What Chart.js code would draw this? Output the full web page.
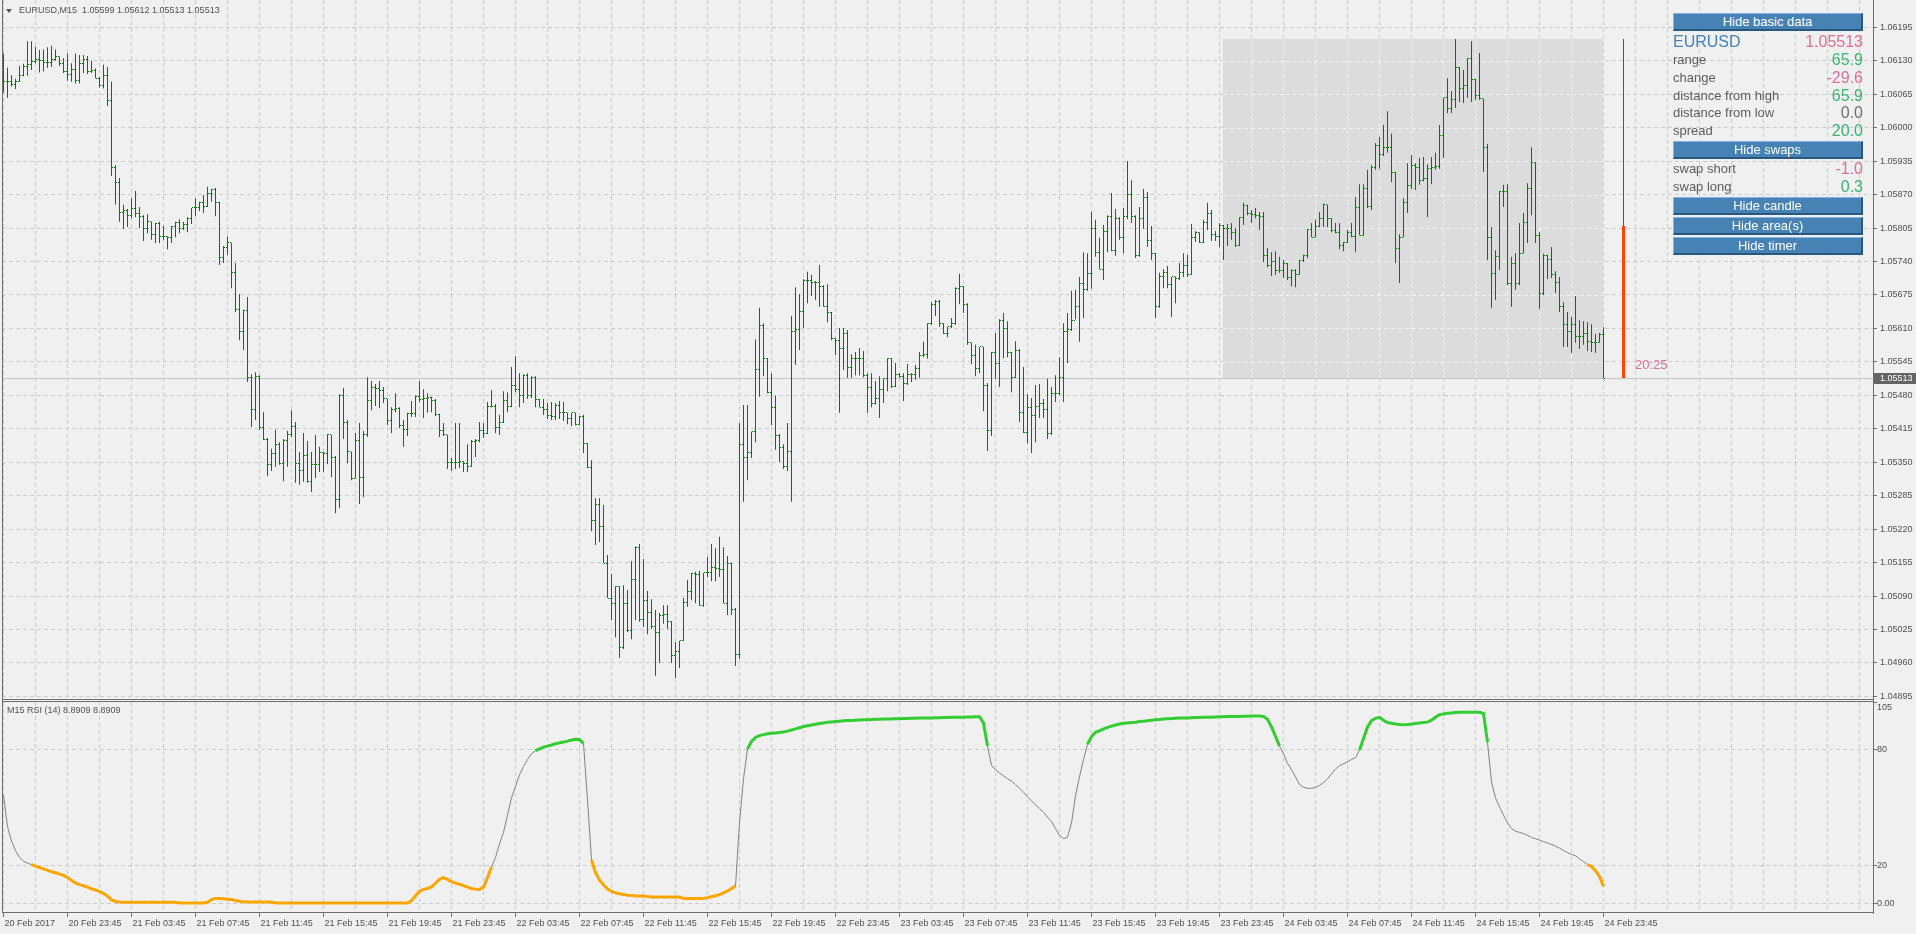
<!DOCTYPE html>
<html>
<head>
<meta charset="utf-8">
<title>EURUSD M15</title>
<script src="https://cdn.jsdelivr.net/npm/chart.js@4.4.1/dist/chart.umd.min.js"></script>
<style>
  html, body { margin: 0; padding: 0; background: #f0f0f0; }
  body { width: 1916px; height: 934px; position: relative; overflow: hidden;
         font-family: "Liberation Sans", Arial, sans-serif; }
  canvas { position: absolute; left: 0; }
  #price { top: 0; }
  #rsi { top: 700px; }
  .txt { position: absolute; white-space: pre; }
  .small { font-size: 9px; line-height: 12px; color: #505050; }
  .tri { position: absolute; left: 6px; top: 9px; width: 0; height: 0;
         border-left: 3px solid transparent; border-right: 3px solid transparent; border-top: 4px solid #555; }
  .btn { position: absolute; left: 1673px; width: 190px; height: 18px; box-sizing: border-box;
         background: #4682b4; color: #fff; font-size: 13px; line-height: 15px; text-align: center;
         border-top: 1px solid #82b4e2; border-left: 1px solid #82b4e2;
         border-bottom: 2px solid #2a5780; border-right: 2px solid #2a5780; }
  .row { position: absolute; left: 1673px; width: 190px; height: 18px; line-height: 18px;
         font-size: 13px; color: #5c5c5c; }
  .row .v { position: absolute; right: 0; top: 0; font-size: 16px; }
  .blue { color: #4682b4; }
  .pink { color: #db7093; }
  .green { color: #3cb371; }
  .grey { color: #707070; }
</style>
</head>
<body>
<canvas id="price" width="1916" height="700"></canvas>
<canvas id="rsi" width="1916" height="234"></canvas>

<!-- chart titles -->
<div class="tri"></div>
<div class="txt small" style="left:19px; top:4px;">EURUSD,M15  1.05599 1.05612 1.05513 1.05513</div>
<div class="txt small" style="left:7px; top:704px;">M15 RSI (14) 8.8909 8.8909</div>

<!-- info panel -->
<div class="btn" style="top:13px;">Hide basic data</div>
<div class="row" style="top:33px; font-size:16px;"><span class="blue">EURUSD</span><span class="v pink">1.05513</span></div>
<div class="row" style="top:51px;">range<span class="v green">65.9</span></div>
<div class="row" style="top:69px;">change<span class="v pink">-29.6</span></div>
<div class="row" style="top:87px;">distance from high<span class="v green">65.9</span></div>
<div class="row" style="top:104px;">distance from low<span class="v grey">0.0</span></div>
<div class="row" style="top:122px;">spread<span class="v green">20.0</span></div>
<div class="btn" style="top:141px;">Hide swaps</div>
<div class="row" style="top:160px;">swap short<span class="v pink">-1.0</span></div>
<div class="row" style="top:178px;">swap long<span class="v green">0.3</span></div>
<div class="btn" style="top:197px;">Hide candle</div>
<div class="btn" style="top:217px;">Hide area(s)</div>
<div class="btn" style="top:237px;">Hide timer</div>

<!-- bar timer -->
<div class="txt pink" style="left:1635px; top:357px; font-size:13px; line-height:16px;">20:25</div>

<script>
// bar data, EURUSD M15, 20 Feb 19:45 .. 24 Feb 23:45 (one bar every 15 min)
const highs = [
  1.06144, 1.06117, 1.06102, 1.06095, 1.06120, 1.06124, 1.06168, 1.06168, 1.06157, 1.06151,
  1.06152, 1.06156, 1.06159, 1.06152, 1.06138, 1.06135, 1.06144, 1.06125, 1.06144, 1.06141,
  1.06141, 1.06139, 1.06130, 1.06115, 1.06099, 1.06122, 1.06118, 1.06089, 1.05927, 1.05902,
  1.05850, 1.05842, 1.05863, 1.05877, 1.05846, 1.05830, 1.05832, 1.05817, 1.05815, 1.05817,
  1.05809, 1.05789, 1.05809, 1.05817, 1.05822, 1.05817, 1.05826, 1.05844, 1.05863, 1.05856,
  1.05869, 1.05885, 1.05881, 1.05883, 1.05856, 1.05770, 1.05789, 1.05776, 1.05737, 1.05677,
  1.05646, 1.05671, 1.05521, 1.05525, 1.05519, 1.05447, 1.05397, 1.05376, 1.05413, 1.05389,
  1.05395, 1.05411, 1.05451, 1.05428, 1.05370, 1.05407, 1.05391, 1.05370, 1.05403, 1.05380,
  1.05370, 1.05405, 1.05403, 1.05362, 1.05482, 1.05494, 1.05432, 1.05370, 1.05407, 1.05426,
  1.05411, 1.05515, 1.05508, 1.05502, 1.05508, 1.05496, 1.05473, 1.05457, 1.05484, 1.05457,
  1.05432, 1.05446, 1.05469, 1.05480, 1.05508, 1.05492, 1.05484, 1.05477, 1.05473, 1.05444,
  1.05426, 1.05403, 1.05358, 1.05426, 1.05426, 1.05352, 1.05385, 1.05393, 1.05395, 1.05428,
  1.05426, 1.05467, 1.05490, 1.05463, 1.05442, 1.05488, 1.05486, 1.05535, 1.05556, 1.05523,
  1.05521, 1.05523, 1.05517, 1.05517, 1.05473, 1.05473, 1.05465, 1.05467, 1.05465, 1.05469,
  1.05467, 1.05446, 1.05446, 1.05446, 1.05440, 1.05442, 1.05387, 1.05354, 1.05280, 1.05280,
  1.05267, 1.05170, 1.05133, 1.05109, 1.05109, 1.05111, 1.05102, 1.05158, 1.05187, 1.05191,
  1.05162, 1.05100, 1.05084, 1.05063, 1.05057, 1.05072, 1.05072, 1.05041, 1.05001, 1.05003,
  1.05086, 1.05121, 1.05135, 1.05137, 1.05139, 1.05135, 1.05166, 1.05191, 1.05183, 1.05205,
  1.05185, 1.05168, 1.05154, 1.05067, 1.05426, 1.05461, 1.05461, 1.05409, 1.05589, 1.05650,
  1.05620, 1.05552, 1.05523, 1.05479, 1.05405, 1.05385, 1.05426, 1.05634, 1.05690, 1.05677,
  1.05706, 1.05720, 1.05714, 1.05702, 1.05733, 1.05694, 1.05696, 1.05642, 1.05591, 1.05611,
  1.05611, 1.05607, 1.05560, 1.05564, 1.05572, 1.05566, 1.05523, 1.05523, 1.05508, 1.05517,
  1.05512, 1.05552, 1.05552, 1.05543, 1.05523, 1.05523, 1.05541, 1.05523, 1.05539, 1.05564,
  1.05584, 1.05620, 1.05661, 1.05665, 1.05665, 1.05620, 1.05613, 1.05630, 1.05690, 1.05716,
  1.05692, 1.05659, 1.05582, 1.05578, 1.05574, 1.05574, 1.05504, 1.05564, 1.05601, 1.05628,
  1.05640, 1.05624, 1.05564, 1.05585, 1.05570, 1.05535, 1.05482, 1.05475, 1.05500, 1.05502,
  1.05473, 1.05512, 1.05496, 1.05519, 1.05554, 1.05620, 1.05640, 1.05683, 1.05685, 1.05710,
  1.05758, 1.05756, 1.05836, 1.05821, 1.05786, 1.05811, 1.05830, 1.05873, 1.05842, 1.05826,
  1.05844, 1.05935, 1.05898, 1.05830, 1.05846, 1.05881, 1.05875, 1.05809, 1.05756, 1.05718,
  1.05725, 1.05731, 1.05710, 1.05710, 1.05737, 1.05756, 1.05753, 1.05813, 1.05799, 1.05797,
  1.05821, 1.05854, 1.05840, 1.05799, 1.05815, 1.05811, 1.05813, 1.05815, 1.05805, 1.05826,
  1.05854, 1.05850, 1.05840, 1.05844, 1.05836, 1.05836, 1.05766, 1.05758, 1.05760, 1.05749,
  1.05743, 1.05737, 1.05725, 1.05725, 1.05743, 1.05753, 1.05803, 1.05815, 1.05821, 1.05836,
  1.05852, 1.05850, 1.05824, 1.05815, 1.05815, 1.05778, 1.05801, 1.05815, 1.05865, 1.05890,
  1.05890, 1.05918, 1.05927, 1.05970, 1.05982, 1.06005, 1.06032, 1.05988, 1.05914, 1.05793,
  1.05863, 1.05931, 1.05947, 1.05931, 1.05941, 1.05943, 1.05929, 1.05943, 1.05951, 1.06005,
  1.06058, 1.06096, 1.06071, 1.06172, 1.06118, 1.06112, 1.06135, 1.06168, 1.06095, 1.06145,
  1.06056, 1.05968, 1.05807, 1.05762, 1.05877, 1.05889, 1.05890, 1.05749, 1.05756, 1.05815,
  1.05834, 1.05892, 1.05962, 1.05933, 1.05797, 1.05755, 1.05753, 1.05768, 1.05721, 1.05710,
  1.05661, 1.05642, 1.05632, 1.05673, 1.05626, 1.05624, 1.05622, 1.05618, 1.05599, 1.05601,
  1.05612
];
const lows = [
  1.06068, 1.06058, 1.06080, 1.06075, 1.06089, 1.06100, 1.06101, 1.06112, 1.06125, 1.06107,
  1.06109, 1.06116, 1.06118, 1.06130, 1.06120, 1.06106, 1.06091, 1.06089, 1.06086, 1.06086,
  1.06106, 1.06104, 1.06106, 1.06096, 1.06078, 1.06076, 1.06042, 1.05906, 1.05850, 1.05817,
  1.05803, 1.05807, 1.05824, 1.05826, 1.05805, 1.05780, 1.05795, 1.05782, 1.05776, 1.05776,
  1.05782, 1.05764, 1.05776, 1.05787, 1.05795, 1.05801, 1.05797, 1.05813, 1.05828, 1.05838,
  1.05834, 1.05846, 1.05856, 1.05828, 1.05733, 1.05737, 1.05753, 1.05688, 1.05642, 1.05587,
  1.05568, 1.05506, 1.05418, 1.05432, 1.05413, 1.05393, 1.05323, 1.05333, 1.05341, 1.05345,
  1.05313, 1.05341, 1.05399, 1.05310, 1.05306, 1.05312, 1.05310, 1.05292, 1.05319, 1.05331,
  1.05331, 1.05346, 1.05321, 1.05251, 1.05261, 1.05395, 1.05348, 1.05315, 1.05319, 1.05269,
  1.05282, 1.05399, 1.05451, 1.05459, 1.05455, 1.05465, 1.05422, 1.05407, 1.05447, 1.05416,
  1.05380, 1.05401, 1.05438, 1.05438, 1.05467, 1.05436, 1.05446, 1.05447, 1.05440, 1.05399,
  1.05401, 1.05337, 1.05333, 1.05337, 1.05339, 1.05331, 1.05331, 1.05341, 1.05360, 1.05389,
  1.05397, 1.05405, 1.05457, 1.05407, 1.05403, 1.05426, 1.05447, 1.05457, 1.05486, 1.05457,
  1.05465, 1.05473, 1.05475, 1.05457, 1.05457, 1.05442, 1.05434, 1.05432, 1.05432, 1.05434,
  1.05430, 1.05424, 1.05420, 1.05422, 1.05422, 1.05368, 1.05339, 1.05216, 1.05189, 1.05195,
  1.05154, 1.05086, 1.05043, 1.05010, 1.04970, 1.04987, 1.05020, 1.05006, 1.05043, 1.05040,
  1.05030, 1.05016, 1.05026, 1.04935, 1.04960, 1.05036, 1.05026, 1.04960, 1.04931, 1.04950,
  1.05003, 1.05069, 1.05082, 1.05076, 1.05071, 1.05069, 1.05127, 1.05119, 1.05119, 1.05127,
  1.05076, 1.05053, 1.05053, 1.04954, 1.04968, 1.05273, 1.05315, 1.05358, 1.05389, 1.05477,
  1.05517, 1.05484, 1.05422, 1.05374, 1.05350, 1.05337, 1.05333, 1.05273, 1.05539, 1.05568,
  1.05611, 1.05659, 1.05673, 1.05665, 1.05652, 1.05652, 1.05622, 1.05587, 1.05558, 1.05446,
  1.05529, 1.05514, 1.05514, 1.05519, 1.05519, 1.05515, 1.05446, 1.05457, 1.05462, 1.05436,
  1.05465, 1.05488, 1.05494, 1.05496, 1.05514, 1.05469, 1.05500, 1.05506, 1.05510, 1.05514,
  1.05554, 1.05551, 1.05617, 1.05634, 1.05613, 1.05599, 1.05593, 1.05611, 1.05617, 1.05657,
  1.05640, 1.05578, 1.05541, 1.05517, 1.05523, 1.05449, 1.05372, 1.05401, 1.05512, 1.05496,
  1.05552, 1.05554, 1.05486, 1.05514, 1.05428, 1.05407, 1.05387, 1.05368, 1.05389, 1.05436,
  1.05436, 1.05395, 1.05403, 1.05467, 1.05480, 1.05467, 1.05543, 1.05605, 1.05628, 1.05584,
  1.05630, 1.05683, 1.05687, 1.05749, 1.05725, 1.05704, 1.05758, 1.05760, 1.05751, 1.05782,
  1.05756, 1.05822, 1.05815, 1.05747, 1.05749, 1.05803, 1.05768, 1.05743, 1.05630, 1.05650,
  1.05688, 1.05688, 1.05632, 1.05659, 1.05704, 1.05710, 1.05710, 1.05714, 1.05778, 1.05776,
  1.05776, 1.05801, 1.05780, 1.05780, 1.05768, 1.05743, 1.05770, 1.05782, 1.05768, 1.05770,
  1.05811, 1.05830, 1.05815, 1.05824, 1.05801, 1.05739, 1.05729, 1.05712, 1.05714, 1.05718,
  1.05708, 1.05704, 1.05692, 1.05690, 1.05714, 1.05739, 1.05747, 1.05787, 1.05787, 1.05807,
  1.05807, 1.05807, 1.05797, 1.05795, 1.05764, 1.05760, 1.05776, 1.05787, 1.05758, 1.05791,
  1.05790, 1.05844, 1.05840, 1.05918, 1.05920, 1.05945, 1.05951, 1.05894, 1.05737, 1.05698,
  1.05787, 1.05834, 1.05881, 1.05879, 1.05889, 1.05896, 1.05826, 1.05890, 1.05918, 1.05920,
  1.05941, 1.06028, 1.06028, 1.06038, 1.06050, 1.06048, 1.06058, 1.06050, 1.06054, 1.06054,
  1.05914, 1.05743, 1.05650, 1.05665, 1.05723, 1.05846, 1.05694, 1.05652, 1.05685, 1.05694,
  1.05756, 1.05776, 1.05830, 1.05776, 1.05648, 1.05675, 1.05706, 1.05708, 1.05679, 1.05642,
  1.05574, 1.05574, 1.05562, 1.05582, 1.05570, 1.05578, 1.05566, 1.05564, 1.05562, 1.05582,
  1.05513
];
const closes = [
  1.06089, 1.06089, 1.06084, 1.06089, 1.06102, 1.06119, 1.06123, 1.06129, 1.06133, 1.06131,
  1.06126, 1.06126, 1.06133, 1.06138, 1.06125, 1.06109, 1.06104, 1.06113, 1.06091, 1.06125,
  1.06133, 1.06110, 1.06111, 1.06096, 1.06081, 1.06102, 1.06052, 1.05922, 1.05893, 1.05836,
  1.05840, 1.05830, 1.05842, 1.05834, 1.05828, 1.05805, 1.05817, 1.05793, 1.05813, 1.05789,
  1.05789, 1.05786, 1.05807, 1.05815, 1.05805, 1.05811, 1.05824, 1.05844, 1.05844, 1.05854,
  1.05846, 1.05873, 1.05879, 1.05854, 1.05747, 1.05768, 1.05776, 1.05718, 1.05646, 1.05603,
  1.05644, 1.05515, 1.05453, 1.05517, 1.05418, 1.05395, 1.05346, 1.05366, 1.05385, 1.05348,
  1.05393, 1.05403, 1.05420, 1.05348, 1.05333, 1.05364, 1.05312, 1.05346, 1.05346, 1.05368,
  1.05366, 1.05403, 1.05360, 1.05277, 1.05480, 1.05428, 1.05370, 1.05319, 1.05393, 1.05321,
  1.05403, 1.05469, 1.05496, 1.05494, 1.05490, 1.05473, 1.05432, 1.05453, 1.05455, 1.05422,
  1.05413, 1.05444, 1.05444, 1.05477, 1.05471, 1.05473, 1.05475, 1.05469, 1.05442, 1.05411,
  1.05403, 1.05350, 1.05350, 1.05350, 1.05352, 1.05348, 1.05341, 1.05391, 1.05393, 1.05411,
  1.05405, 1.05459, 1.05459, 1.05418, 1.05428, 1.05469, 1.05459, 1.05500, 1.05492, 1.05480,
  1.05519, 1.05480, 1.05515, 1.05471, 1.05457, 1.05453, 1.05440, 1.05438, 1.05461, 1.05447,
  1.05446, 1.05434, 1.05446, 1.05424, 1.05438, 1.05387, 1.05339, 1.05236, 1.05267, 1.05226,
  1.05154, 1.05086, 1.05076, 1.05108, 1.04991, 1.05076, 1.05024, 1.05123, 1.05185, 1.05045,
  1.05082, 1.05059, 1.05030, 1.05020, 1.05053, 1.05055, 1.05040, 1.04975, 1.04983, 1.05003,
  1.05078, 1.05098, 1.05133, 1.05131, 1.05072, 1.05135, 1.05135, 1.05146, 1.05144, 1.05142,
  1.05076, 1.05154, 1.05063, 1.04977, 1.05385, 1.05360, 1.05368, 1.05409, 1.05531, 1.05615,
  1.05552, 1.05486, 1.05457, 1.05401, 1.05378, 1.05341, 1.05370, 1.05603, 1.05607, 1.05642,
  1.05704, 1.05704, 1.05700, 1.05700, 1.05692, 1.05652, 1.05640, 1.05591, 1.05587, 1.05570,
  1.05601, 1.05535, 1.05552, 1.05552, 1.05552, 1.05519, 1.05496, 1.05465, 1.05473, 1.05492,
  1.05512, 1.05552, 1.05498, 1.05521, 1.05517, 1.05502, 1.05521, 1.05521, 1.05533, 1.05558,
  1.05560, 1.05620, 1.05657, 1.05663, 1.05620, 1.05601, 1.05613, 1.05620, 1.05687, 1.05692,
  1.05657, 1.05582, 1.05558, 1.05533, 1.05574, 1.05500, 1.05411, 1.05564, 1.05541, 1.05626,
  1.05609, 1.05564, 1.05515, 1.05568, 1.05446, 1.05407, 1.05457, 1.05440, 1.05459, 1.05465,
  1.05453, 1.05405, 1.05484, 1.05484, 1.05515, 1.05603, 1.05607, 1.05626, 1.05652, 1.05698,
  1.05685, 1.05716, 1.05805, 1.05758, 1.05725, 1.05799, 1.05828, 1.05762, 1.05824, 1.05786,
  1.05828, 1.05871, 1.05828, 1.05751, 1.05824, 1.05865, 1.05780, 1.05756, 1.05652, 1.05710,
  1.05718, 1.05696, 1.05710, 1.05706, 1.05718, 1.05733, 1.05714, 1.05787, 1.05797, 1.05776,
  1.05815, 1.05834, 1.05793, 1.05789, 1.05809, 1.05805, 1.05805, 1.05797, 1.05772, 1.05826,
  1.05848, 1.05834, 1.05832, 1.05830, 1.05828, 1.05751, 1.05733, 1.05739, 1.05723, 1.05723,
  1.05737, 1.05708, 1.05723, 1.05714, 1.05741, 1.05751, 1.05803, 1.05787, 1.05807, 1.05824,
  1.05850, 1.05824, 1.05801, 1.05797, 1.05772, 1.05776, 1.05797, 1.05789, 1.05844, 1.05791,
  1.05881, 1.05846, 1.05923, 1.05966, 1.05947, 1.05962, 1.05962, 1.05912, 1.05766, 1.05787,
  1.05854, 1.05887, 1.05927, 1.05923, 1.05898, 1.05902, 1.05920, 1.05922, 1.05925, 1.05984,
  1.06058, 1.06038, 1.06054, 1.06116, 1.06077, 1.06081, 1.06135, 1.06093, 1.06063, 1.06056,
  1.05962, 1.05787, 1.05716, 1.05749, 1.05875, 1.05875, 1.05698, 1.05737, 1.05698, 1.05756,
  1.05815, 1.05881, 1.05933, 1.05791, 1.05677, 1.05751, 1.05743, 1.05714, 1.05700, 1.05652,
  1.05618, 1.05603, 1.05618, 1.05595, 1.05595, 1.05601, 1.05585, 1.05582, 1.05582, 1.05599,
  1.05513
];
const firstOpen = 1.06110;   // open of the first bar, others open at the previous close

// RSI(14) on the same bars
const rsi = [
  56.6, 40, 32.5, 27.5, 24, 22, 21, 20.2, 19.4, 18.7,
  18, 17.2, 16.5, 16, 15.3, 14.6, 13.5, 12, 10.6, 9.8,
  9.2, 8.5, 7.6, 7, 6.3, 5.2, 3.8, 1.8, 1, 0.7,
  0.6, 0.6, 0.6, 0.6, 0.6, 0.6, 0.6, 0.6, 0.6, 0.6,
  0.6, 0.6, 0.6, 0.6, 0.2, 0.2, 0.2, 0.2, 0.2, 0.2,
  0.2, 0.6, 2, 2.6, 2.6, 2.4, 2.2, 2, 1.5, 1.1,
  0.9, 0.7, 0.7, 0.7, 0.7, 0.7, 0.7, 0.7, 0.15, 0.15,
  0.15, 0.15, 0.15, 0.15, 0.15, 0.15, 0.15, 0.15, 0.15, 0.15,
  0.15, 0.15, 0.15, 0.15, 0.15, 0.15, 0.15, 0.15, 0.15, 0.15,
  0.15, 0.15, 0.15, 0.15, 0.15, 0.15, 0.15, 0.15, 0.15, 0.15,
  0.15, 0.15, 1.5, 4, 6.3, 7.3, 7.8, 8.6, 10.5, 12.6,
  13.4, 12.5, 11.4, 10.6, 10, 9.3, 8.5, 7.8, 7.4, 7.3,
  8.5, 13.5, 19, 24, 31, 37, 46, 55, 61, 67,
  71.4, 75, 78, 79.6, 80.6, 81.5, 82, 82.6, 83.2, 83.7,
  84.1, 84.6, 85.2, 85.6, 85.3, 83.4, 54, 22.6, 16, 12.1,
  9.7, 7.5, 6.3, 5.5, 5, 4.7, 4.3, 4.1, 3.9, 3.8,
  3.8, 3.6, 3.4, 3.4, 3.4, 3.4, 3.4, 3.4, 3.4, 3.4,
  2.6, 2.6, 2.6, 2.6, 2.6, 2.6, 3, 3.5, 4, 4.6,
  5.5, 6.5, 7.8, 9, 42, 65, 80.5, 84.5, 86.5, 87.5,
  88, 88.4, 88.7, 88.9, 89.1, 89.4, 89.8, 90.4, 91, 91.6,
  92.2, 92.6, 93, 93.4, 93.8, 94.1, 94.4, 94.6, 94.8, 95,
  95.2, 95.3, 95.4, 95.5, 95.6, 95.7, 95.8, 95.9, 96, 96,
  96.1, 96.2, 96.2, 96.3, 96.3, 96.4, 96.4, 96.5, 96.5, 96.6,
  96.6, 96.7, 96.7, 96.8, 96.8, 96.9, 96.9, 97, 97, 97.1,
  97.1, 97.2, 97.2, 97.3, 97.3, 94, 82, 72, 69.7, 68,
  66.5, 65, 63.8, 62, 60, 58, 55.5, 53.5, 51.5, 49.5,
  47.5, 45, 42.7, 39, 35.5, 33.8, 34.5, 42, 56, 66,
  75, 83, 87, 89.2, 90, 91, 91.8, 92.4, 93, 93.5,
  93.9, 94.1, 94.3, 94.5, 94.8, 95, 95.2, 95.5, 95.7, 95.9,
  96.1, 96.3, 96.4, 96.5, 96.6, 96.6, 96.7, 96.8, 96.9, 96.9,
  97, 97.1, 97.1, 97.2, 97.3, 97.3, 97.4, 97.4, 97.5, 97.5,
  97.6, 97.6, 97.7, 97.7, 97.7, 97.5, 96, 92, 87, 82,
  78, 73, 69.7, 66, 62, 60.5, 60, 60, 60.5, 61.5,
  63, 65, 67.5, 70, 71.8, 72.8, 73.8, 75, 76, 80,
  86, 92, 95.3, 96.5, 97, 95.5, 94.3, 93.9, 93.5, 93.3,
  93.2, 93.3, 93.5, 93.8, 94, 94.3, 94.5, 95.5, 97, 98.4,
  98.8, 99.1, 99.3, 99.5, 99.6, 99.6, 99.6, 99.7, 99.7, 99.6,
  99, 84, 63.3, 55, 50.3, 46, 42, 39, 37.7, 37,
  36.4, 35.5, 34.4, 33.7, 33, 32.2, 31.5, 30.7, 29.9, 28.8,
  27.6, 26.5, 25.5, 24.8, 23.3, 21.8, 20.3, 19.2, 17.1, 14,
  8.89
];

const priceTicks = [1.04895, 1.04960, 1.05025, 1.05090, 1.05155, 1.05220, 1.05285, 1.05350,
  1.05415, 1.05480, 1.05545, 1.05610, 1.05675, 1.05740, 1.05805, 1.05870, 1.05935,
  1.06000, 1.06065, 1.06130, 1.06195];
const rsiTicks = [0, 20, 80, 105];
const rsiLevels = [20, 80];
const timeLabels = ['20 Feb 2017', '20 Feb 23:45', '21 Feb 03:45', '21 Feb 07:45', '21 Feb 11:45',
  '21 Feb 15:45', '21 Feb 19:45', '21 Feb 23:45', '22 Feb 03:45', '22 Feb 07:45', '22 Feb 11:45',
  '22 Feb 15:45', '22 Feb 19:45', '22 Feb 23:45', '23 Feb 03:45', '23 Feb 07:45', '23 Feb 11:45',
  '23 Feb 15:45', '23 Feb 19:45', '23 Feb 23:45', '24 Feb 03:45', '24 Feb 07:45', '24 Feb 11:45',
  '24 Feb 15:45', '24 Feb 19:45', '24 Feb 23:45'];
const dayStart = 305;      // first bar of 24 Feb

// looks
const barColor = '#007a00';
const gridColor = '#cccccc';
const axisColor = '#6e6e6e';
const textColor = '#505050';
const last = closes.length - 1;
const xMin = -0.375, xMax = 467.375;
const gridIdx = [];
for (let v = 0; v <= xMax; v += 8) gridIdx.push(v);

Chart.defaults.font.family = '"Liberation Sans", Arial, sans-serif';
Chart.defaults.font.size = 9;

function noPad(ax) {
  ax.paddingLeft = 0; ax.paddingRight = 0; ax.paddingTop = 0; ax.paddingBottom = 0;
}

function timeAxis(withLabels) {
  return {
    type: 'linear', min: xMin, max: xMax, offset: false,
    grid: {
      color: gridColor, offset: false, drawTicks: withLabels, tickLength: 4, tickBorderDash: [1, 0],
      tickColor: c => (c.tick && c.tick.value % 16 === 0 && c.tick.value <= last) ? axisColor : 'rgba(0,0,0,0)'
    },
    border: { display: false, dash: [4, 3] },
    ticks: {
      display: withLabels, autoSkip: false, maxRotation: 0, minRotation: 0,
      align: 'start', labelOffset: 1, padding: 1, color: textColor,
      callback: v => (v % 16 === 0 && timeLabels[v / 16]) ? timeLabels[v / 16] : ''
    },
    afterBuildTicks: ax => { ax.ticks = gridIdx.map(v => ({ value: v })); },
    afterFit: ax => { ax.height = withLabels ? 21 : 0; noPad(ax); }
  };
}

// ---------- price panel ----------
const pricePlugin = {
  id: 'pricePlugin',
  beforeDatasetsDraw(chart) {
    const { ctx, scales: { x, y }, chartArea } = chart;
    const dHigh = Math.max(...highs.slice(dayStart));
    const dLow = Math.min(...lows.slice(dayStart));
    const x0 = Math.round(x.getPixelForValue(dayStart) - 0.5);
    const x1 = Math.round(x.getPixelForValue(last) - 0.5);
    const y0 = Math.round(y.getPixelForValue(dHigh));
    const y1 = Math.round(y.getPixelForValue(dLow));
    ctx.save();
    // today's area
    ctx.fillStyle = '#dcdcdc';
    ctx.fillRect(x0, y0, x1 - x0, y1 - y0);
    ctx.strokeStyle = '#f4f4f4';
    ctx.lineWidth = 1;
    ctx.setLineDash([4, 3]);
    ctx.beginPath();
    gridIdx.forEach(v => {
      const px = x.getPixelForValue(v);
      if (px > x0 && px < x1) { ctx.moveTo(px, y0); ctx.lineTo(px, y1); }
    });
    priceTicks.forEach(v => {
      const py = Math.round(y.getPixelForValue(v)) + 0.5;
      if (py > y0 && py < y1) { ctx.moveTo(x0, py); ctx.lineTo(x1, py); }
    });
    ctx.stroke();
    ctx.setLineDash([]);
    // bid line
    ctx.fillStyle = '#c4c4c4';
    ctx.fillRect(chartArea.left, Math.round(y.getPixelForValue(closes[last]) - 0.5), chartArea.right - chartArea.left, 1);
    ctx.restore();
  },
  afterDatasetsDraw(chart) {
    const { ctx, scales: { x, y } } = chart;
    ctx.save();
    // open / close ticks
    ctx.fillStyle = barColor;
    for (let i = 0; i <= last; i++) {
      const px = Math.round(x.getPixelForValue(i) - 0.5);
      const o = i ? closes[i - 1] : firstOpen;
      ctx.fillRect(px - 1, Math.round(y.getPixelForValue(o) - 0.5), 1, 1);
      ctx.fillRect(px + 1, Math.round(y.getPixelForValue(closes[i]) - 0.5), 1, 1);
    }
    // daily candle right of the last bar
    const dHigh = Math.max(...highs.slice(dayStart));
    const dLow = Math.min(...lows.slice(dayStart));
    const dOpen = closes[dayStart - 1];
    const cx = Math.round(x.getPixelForValue(last + 5) - 0.5);
    const yh = y.getPixelForValue(dHigh), yl = y.getPixelForValue(dLow), yo = y.getPixelForValue(dOpen);
    ctx.fillStyle = '#d01c3c';
    ctx.fillRect(cx, Math.round(yh), 1, Math.round(yl - yh));
    ctx.fillStyle = '#ff4500';
    ctx.fillRect(cx - 1, Math.round(yo), 3, Math.round(yl - yo));
    ctx.restore();
  },
  afterDraw(chart) {
    const { ctx, scales: { y }, chartArea } = chart;
    ctx.save();
    ctx.fillStyle = axisColor;
    ctx.fillRect(2, 0, 1, 700);
    ctx.fillRect(chartArea.right, 0, 1, 700);
    ctx.fillRect(2, 699, chartArea.right - 2, 1);
    // current price label
    const py = Math.round(y.getPixelForValue(closes[last]));
    ctx.fillStyle = '#646464';
    ctx.fillRect(chartArea.right + 1, py - 5, 42, 11);
    ctx.fillStyle = '#ffffff';
    ctx.font = '9px "Liberation Sans", Arial, sans-serif';
    ctx.textBaseline = 'middle';
    ctx.fillText(closes[last].toFixed(5), chartArea.right + 7, py + 0.5);
    ctx.restore();
  }
};

new Chart(document.getElementById('price'), {
  type: 'bar',
  data: {
    datasets: [{
      data: highs.map((h, i) => ({ x: i, y: [lows[i], h] })),
      backgroundColor: barColor,
      borderWidth: 0,
      barThickness: 1,
      inflateAmount: 0,
      grouped: false
    }]
  },
  options: {
    responsive: false,
    animation: false,
    devicePixelRatio: 1,
    events: [],
    layout: { padding: { left: 2, top: 0, right: 0, bottom: 1 } },
    plugins: { legend: { display: false }, tooltip: { enabled: false } },
    scales: {
      x: timeAxis(false),
      y: {
        position: 'right', min: 1.04890, max: 1.06248,
        grid: { color: gridColor, tickLength: 4, tickColor: axisColor, tickBorderDash: [1, 0] },
        border: { display: false, dash: [4, 3] },
        ticks: { color: textColor, padding: 3, autoSkip: false, callback: v => v.toFixed(5) },
        afterBuildTicks: ax => { ax.ticks = priceTicks.map(v => ({ value: v })); },
        afterFit: ax => { ax.width = 43; noPad(ax); }
      }
    }
  },
  plugins: [pricePlugin]
});

// ---------- RSI panel ----------
function zone(s) {
  const m = (s.p0.parsed.y + s.p1.parsed.y) / 2;
  if (m < rsiLevels[0]) return 'low';
  if (m > rsiLevels[1]) return 'high';
  return '';
}

const rsiPlugin = {
  id: 'rsiPlugin',
  afterDraw(chart) {
    const { ctx, scales: { y }, chartArea } = chart;
    ctx.save();
    ctx.fillStyle = axisColor;
    ctx.fillRect(2, 1, chartArea.right - 2, 1);
    ctx.fillRect(2, 0, 1, 213);
    ctx.fillRect(chartArea.right, 0, 1, 214);
    ctx.fillRect(2, 212, chartArea.right - 2, 1);
    ctx.fillStyle = textColor;
    ctx.font = '9px "Liberation Sans", Arial, sans-serif';
    ctx.textBaseline = 'middle';
    ctx.fillText('105', chartArea.right + 4, y.getPixelForValue(105) + 6);
    ctx.restore();
  }
};

new Chart(document.getElementById('rsi'), {
  type: 'line',
  data: {
    datasets: [{
      data: rsi.map((v, i) => ({ x: i, y: v })),
      borderColor: '#808080',
      borderWidth: 1,
      pointRadius: 0,
      tension: 0,
      segment: {
        borderColor: s => zone(s) === 'low' ? '#ffa500' : (zone(s) === 'high' ? '#32cd32' : '#808080'),
        borderWidth: s => zone(s) ? 3 : 1
      }
    }]
  },
  options: {
    responsive: false,
    animation: false,
    devicePixelRatio: 1,
    events: [],
    layout: { padding: { left: 2, top: 2, right: 0, bottom: 0 } },
    plugins: { legend: { display: false }, tooltip: { enabled: false } },
    scales: {
      x: timeAxis(true),
      y: {
        position: 'right', min: -5, max: 105,
        grid: {
          color: c => (c.tick && c.tick.value === 105) ? 'rgba(0,0,0,0)' : gridColor,
          tickLength: 4, tickColor: axisColor, tickBorderDash: [1, 0]
        },
        border: { display: false, dash: [4, 3] },
        ticks: {
          color: textColor, padding: 0, autoSkip: false,
          callback: v => v === 105 ? '' : (v === 0 ? '0.00' : String(v))
        },
        afterBuildTicks: ax => { ax.ticks = rsiTicks.map(v => ({ value: v })); },
        afterFit: ax => { ax.width = 43; noPad(ax); }
      }
    }
  },
  plugins: [rsiPlugin]
});
</script>
</body>
</html>
